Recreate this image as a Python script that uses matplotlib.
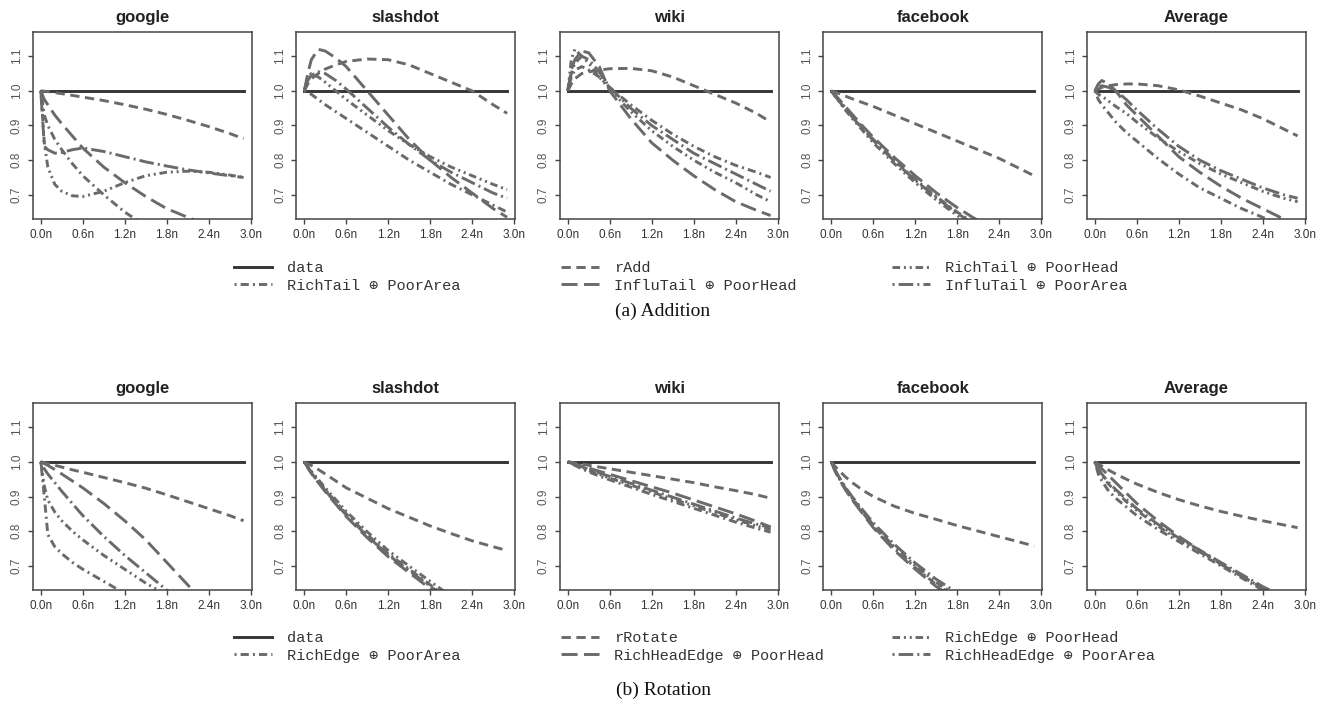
import matplotlib
matplotlib.use("Agg")
import matplotlib.pyplot as plt
from matplotlib.lines import Line2D

# x positions (in units of n) shared by every curve
x_n = [0, 0.05, 0.1, 0.2, 0.3, 0.45, 0.6, 0.9, 1.2, 1.5, 1.8, 2.1, 2.4, 2.7, 2.9]
x_ticks = [0.0, 0.6, 1.2, 1.8, 2.4, 3.0]
x_tick_labels = ["0.0n", "0.6n", "1.2n", "1.8n", "2.4n", "3.0n"]
y_ticks = [0.7, 0.8, 0.9, 1.0, 1.1]
panel_names = ["google", "slashdot", "wiki", "facebook", "Average"]

# (a) Addition -- labels in legend order
add_labels = ["data", "rAdd", "RichTail \u2295 PoorHead", "RichTail \u2295 PoorArea",
              "InfluTail \u2295 PoorHead", "InfluTail \u2295 PoorArea"]

add_google = {
    "rAdd": [1.0, 0.999, 0.998, 0.995, 0.992, 0.987, 0.982, 0.972, 0.96, 0.947, 0.932, 0.915, 0.897, 0.877, 0.862],
    "RichTail \u2295 PoorHead": [1.0, 0.85, 0.78, 0.73, 0.71, 0.697, 0.695, 0.71, 0.735, 0.755, 0.765, 0.768, 0.765, 0.757, 0.75],
    "RichTail \u2295 PoorArea": [1.0, 0.93, 0.9, 0.86, 0.83, 0.79, 0.755, 0.7, 0.65, 0.61, 0.58, 0.55, 0.53, 0.51, 0.5],
    "InfluTail \u2295 PoorHead": [1.0, 0.975, 0.96, 0.93, 0.905, 0.87, 0.835, 0.78, 0.735, 0.695, 0.66, 0.635, 0.61, 0.59, 0.575],
    "InfluTail \u2295 PoorArea": [1.0, 0.84, 0.83, 0.82, 0.822, 0.83, 0.835, 0.825, 0.81, 0.795, 0.783, 0.772, 0.763, 0.755, 0.75],
}
add_slashdot = {
    "rAdd": [1.0, 1.02, 1.035, 1.05, 1.063, 1.075, 1.085, 1.092, 1.09, 1.075, 1.05, 1.025, 1.0, 0.96, 0.935],
    "RichTail \u2295 PoorHead": [1.0, 1.04, 1.05, 1.04, 1.025, 1.0, 0.975, 0.93, 0.885, 0.845, 0.81, 0.78, 0.755, 0.73, 0.715],
    "RichTail \u2295 PoorArea": [1.0, 0.995, 0.99, 0.975, 0.96, 0.94, 0.92, 0.88, 0.84, 0.8, 0.765, 0.73, 0.7, 0.67, 0.65],
    "InfluTail \u2295 PoorHead": [1.0, 1.05, 1.09, 1.12, 1.115, 1.095, 1.07, 1.0, 0.93, 0.86, 0.8, 0.75, 0.705, 0.66, 0.635],
    "InfluTail \u2295 PoorArea": [1.0, 1.03, 1.045, 1.055, 1.05, 1.03, 1.005, 0.95, 0.895, 0.845, 0.8, 0.765, 0.735, 0.705, 0.69],
}
add_wiki = {
    "rAdd": [1.0, 1.02, 1.035, 1.05, 1.055, 1.06, 1.064, 1.065, 1.058, 1.04, 1.015, 0.99, 0.965, 0.935, 0.91],
    "RichTail \u2295 PoorHead": [1.0, 1.09, 1.12, 1.1, 1.08, 1.04, 1.005, 0.94, 0.885, 0.84, 0.8, 0.765, 0.735, 0.7, 0.68],
    "RichTail \u2295 PoorArea": [1.0, 1.04, 1.06, 1.07, 1.06, 1.04, 1.01, 0.96, 0.915, 0.875, 0.84, 0.81, 0.785, 0.765, 0.75],
    "InfluTail \u2295 PoorHead": [1.0, 1.06, 1.09, 1.115, 1.11, 1.07, 1.0, 0.92, 0.85, 0.8, 0.755, 0.715, 0.68, 0.655, 0.64],
    "InfluTail \u2295 PoorArea": [1.0, 1.05, 1.08, 1.1, 1.09, 1.055, 1.01, 0.95, 0.9, 0.86, 0.82, 0.79, 0.76, 0.73, 0.71],
}
add_facebook = {
    "rAdd": [1.0, 0.997, 0.993, 0.985, 0.977, 0.966, 0.955, 0.93, 0.905, 0.88, 0.855, 0.83, 0.805, 0.775, 0.755],
    "RichTail \u2295 PoorHead": [1.0, 0.985, 0.972, 0.945, 0.92, 0.885, 0.85, 0.79, 0.735, 0.685, 0.64, 0.6, 0.565, 0.53, 0.51],
    "RichTail \u2295 PoorArea": [1.0, 0.988, 0.976, 0.952, 0.928, 0.893, 0.86, 0.8, 0.745, 0.695, 0.65, 0.61, 0.575, 0.54, 0.52],
    "InfluTail \u2295 PoorHead": [1.0, 0.99, 0.978, 0.955, 0.932, 0.898, 0.866, 0.808, 0.755, 0.706, 0.663, 0.625, 0.59, 0.56, 0.54],
    "InfluTail \u2295 PoorArea": [1.0, 0.986, 0.973, 0.948, 0.924, 0.89, 0.857, 0.797, 0.742, 0.692, 0.647, 0.606, 0.57, 0.535, 0.515],
}
add_average = {
    "rAdd": [1.0, 1.005, 1.01, 1.015, 1.018, 1.02, 1.02, 1.015, 1.003, 0.985, 0.965, 0.945, 0.92, 0.89, 0.87],
    "RichTail \u2295 PoorHead": [1.0, 0.99, 0.985, 0.97, 0.955, 0.935, 0.91, 0.865, 0.825, 0.79, 0.76, 0.735, 0.71, 0.69, 0.68],
    "RichTail \u2295 PoorArea": [1.0, 0.975, 0.96, 0.935, 0.91, 0.88, 0.855, 0.805, 0.76, 0.72, 0.69, 0.66, 0.635, 0.61, 0.595],
    "InfluTail \u2295 PoorHead": [1.0, 1.02, 1.03, 1.02, 1.0, 0.96, 0.93, 0.87, 0.81, 0.765, 0.725, 0.69, 0.66, 0.63, 0.61],
    "InfluTail \u2295 PoorArea": [1.0, 1.01, 1.015, 1.01, 1.0, 0.975, 0.945, 0.89, 0.84, 0.8, 0.77, 0.745, 0.72, 0.7, 0.69],
}

# (b) Rotation
rot_labels = ["data", "rRotate", "RichEdge \u2295 PoorHead", "RichEdge \u2295 PoorArea",
              "RichHeadEdge \u2295 PoorHead", "RichHeadEdge \u2295 PoorArea"]

rot_google = {
    "rRotate": [1.0, 0.998, 0.995, 0.99, 0.985, 0.977, 0.97, 0.955, 0.94, 0.924, 0.905, 0.885, 0.865, 0.845, 0.83],
    "RichEdge \u2295 PoorHead": [1.0, 0.93, 0.89, 0.855, 0.83, 0.8, 0.775, 0.73, 0.69, 0.65, 0.615, 0.58, 0.55, 0.52, 0.5],
    "RichEdge \u2295 PoorArea": [1.0, 0.9, 0.79, 0.755, 0.735, 0.71, 0.69, 0.655, 0.62, 0.59, 0.565, 0.54, 0.52, 0.5, 0.49],
    "RichHeadEdge \u2295 PoorHead": [1.0, 0.995, 0.99, 0.978, 0.965, 0.945, 0.925, 0.88, 0.83, 0.775, 0.71, 0.645, 0.58, 0.53, 0.5],
    "RichHeadEdge \u2295 PoorArea": [1.0, 0.98, 0.965, 0.94, 0.915, 0.88, 0.845, 0.785, 0.73, 0.68, 0.63, 0.58, 0.53, 0.49, 0.46],
}
rot_slashdot = {
    "rRotate": [1.0, 0.995, 0.99, 0.978, 0.965, 0.945, 0.925, 0.895, 0.865, 0.84, 0.815, 0.793, 0.772, 0.755, 0.744],
    "RichEdge \u2295 PoorHead": [1.0, 0.987, 0.973, 0.949, 0.925, 0.891, 0.857, 0.798, 0.744, 0.699, 0.655, 0.612, 0.572, 0.532, 0.512],
    "RichEdge \u2295 PoorArea": [1.0, 0.985, 0.97, 0.945, 0.92, 0.885, 0.85, 0.79, 0.735, 0.69, 0.645, 0.6, 0.56, 0.52, 0.5],
    "RichHeadEdge \u2295 PoorHead": [1.0, 0.983, 0.967, 0.94, 0.914, 0.878, 0.842, 0.781, 0.726, 0.68, 0.634, 0.59, 0.55, 0.51, 0.49],
    "RichHeadEdge \u2295 PoorArea": [1.0, 0.984, 0.968, 0.942, 0.917, 0.881, 0.846, 0.786, 0.731, 0.686, 0.641, 0.597, 0.557, 0.517, 0.497],
}
rot_wiki = {
    "rRotate": [1.0, 0.999, 0.997, 0.994, 0.99, 0.985, 0.98, 0.97, 0.96, 0.95, 0.94, 0.928, 0.917, 0.905, 0.895],
    "RichEdge \u2295 PoorHead": [1.0, 0.996, 0.991, 0.983, 0.975, 0.964, 0.953, 0.933, 0.913, 0.893, 0.873, 0.853, 0.833, 0.815, 0.805],
    "RichEdge \u2295 PoorArea": [1.0, 0.995, 0.99, 0.98, 0.971, 0.959, 0.948, 0.927, 0.906, 0.886, 0.866, 0.846, 0.826, 0.808, 0.797],
    "RichHeadEdge \u2295 PoorHead": [1.0, 0.997, 0.994, 0.988, 0.982, 0.973, 0.964, 0.946, 0.928, 0.91, 0.89, 0.87, 0.85, 0.828, 0.812],
    "RichHeadEdge \u2295 PoorArea": [1.0, 0.997, 0.993, 0.986, 0.978, 0.968, 0.958, 0.938, 0.918, 0.898, 0.878, 0.858, 0.838, 0.82, 0.81],
}
rot_facebook = {
    "rRotate": [1.0, 0.988, 0.977, 0.957, 0.94, 0.918, 0.9, 0.872, 0.851, 0.834, 0.816, 0.8, 0.784, 0.768, 0.757],
    "RichEdge \u2295 PoorHead": [1.0, 0.977, 0.958, 0.924, 0.895, 0.856, 0.818, 0.755, 0.7, 0.652, 0.612, 0.577, 0.547, 0.52, 0.505],
    "RichEdge \u2295 PoorArea": [1.0, 0.976, 0.956, 0.922, 0.892, 0.853, 0.814, 0.75, 0.695, 0.646, 0.606, 0.571, 0.541, 0.515, 0.5],
    "RichHeadEdge \u2295 PoorHead": [1.0, 0.975, 0.955, 0.92, 0.89, 0.85, 0.81, 0.745, 0.69, 0.64, 0.6, 0.565, 0.535, 0.51, 0.495],
    "RichHeadEdge \u2295 PoorArea": [1.0, 0.978, 0.96, 0.927, 0.899, 0.861, 0.824, 0.762, 0.708, 0.661, 0.622, 0.588, 0.558, 0.531, 0.515],
}
rot_average = {
    "rRotate": [1.0, 0.994, 0.988, 0.976, 0.965, 0.95, 0.936, 0.912, 0.891, 0.873, 0.857, 0.843, 0.83, 0.818, 0.81],
    "RichEdge \u2295 PoorHead": [1.0, 0.975, 0.96, 0.935, 0.915, 0.885, 0.86, 0.815, 0.775, 0.74, 0.705, 0.67, 0.635, 0.6, 0.58],
    "RichEdge \u2295 PoorArea": [1.0, 0.965, 0.945, 0.915, 0.895, 0.87, 0.845, 0.805, 0.77, 0.735, 0.7, 0.665, 0.63, 0.6, 0.58],
    "RichHeadEdge \u2295 PoorHead": [1.0, 0.99, 0.98, 0.96, 0.94, 0.91, 0.88, 0.83, 0.785, 0.745, 0.705, 0.67, 0.635, 0.6, 0.58],
    "RichHeadEdge \u2295 PoorArea": [1.0, 0.98, 0.965, 0.94, 0.92, 0.892, 0.865, 0.82, 0.78, 0.745, 0.71, 0.675, 0.64, 0.61, 0.59],
}

add_panels = [add_google, add_slashdot, add_wiki, add_facebook, add_average]
rot_panels = [rot_google, rot_slashdot, rot_wiki, rot_facebook, rot_average]

# line style per legend position (same order in both rows)
dark = "#353535"
grey = "#6a6a6a"
styles = [
    dict(color=dark, ls="-"),
    dict(color=grey, ls=(0, (3.2, 1.9))),
    dict(color=grey, ls=(0, (2.6, 1.3, 0.7, 1.3, 0.7, 1.3))),
    dict(color=grey, ls=(0, (0.7, 1.4, 2.8, 1.4))),
    dict(color=grey, ls=(0, (5.5, 2.2))),
    dict(color=grey, ls=(0, (0.7, 1.4, 5.0, 1.4))),
]
lw = 2.1

W, H = 1329, 703
fig = plt.figure(figsize=(W / 100, H / 100), dpi=100)

sans = ["Liberation Sans", "DejaVu Sans"]
mono = ["Liberation Mono", "DejaVu Sans Mono"]


def draw_row(panels, labels, box_top_px, legend_y_px, caption, caption_y_px):
    for i, (name, data) in enumerate(zip(panel_names, panels)):
        left = (32.7 + 263.5 * i) / W
        ax = fig.add_axes([left, 1 - (box_top_px + 187) / H, 219 / W, 187 / H])
        # data line is always 1
        ax.plot([x_n[0], x_n[-1]], [1.0, 1.0], lw=lw, **styles[0])
        for k, lab in enumerate(labels[1:], start=1):
            ax.plot(x_n, data[lab], lw=lw, **styles[k])
        ax.set_xlim(-0.116, 3.016)
        ax.set_ylim(0.63, 1.17)
        ax.set_xticks(x_ticks)
        ax.set_xticklabels(x_tick_labels, fontsize=8.5, family=sans, color="#333333")
        ax.set_yticks(y_ticks)
        ax.set_yticklabels(["%.1f" % v for v in y_ticks], fontsize=8.5, family=sans,
                           color="#555555", rotation=90, va="center")
        ax.tick_params(length=3.5, width=1.0, color="#444444", pad=3.5)
        for sp in ax.spines.values():
            sp.set_color("#444444")
            sp.set_linewidth(1.1)
        ax.set_title(name, fontsize=12, fontweight="bold", family=sans, color="#222222", pad=7)

    # legend in three columns, read row by row
    col_x = [234 / W, 561 / W, 892 / W]
    for c in range(3):
        idx = [c, c + 3]
        handles = [Line2D([], [], lw=lw, **styles[j]) for j in idx]
        fig.legend(handles, [labels[j] for j in idx], loc="upper left",
                   bbox_to_anchor=(col_x[c], 1 - legend_y_px / H), frameon=False,
                   prop=dict(family=mono, size=11), handlelength=2.5, handletextpad=1.0,
                   borderpad=0, borderaxespad=0, labelspacing=0.25, labelcolor="#333333")
    fig.text(663 / W, 1 - caption_y_px / H, caption, ha="center", va="center",
             fontsize=14, family=["Liberation Serif", "DejaVu Serif"], color="#111111")


draw_row(add_panels, add_labels, 32, 261, "(a) Addition", 311)
draw_row(rot_panels, rot_labels, 403, 631, "(b) Rotation", 690)

fig.savefig("out.png", dpi=100)
